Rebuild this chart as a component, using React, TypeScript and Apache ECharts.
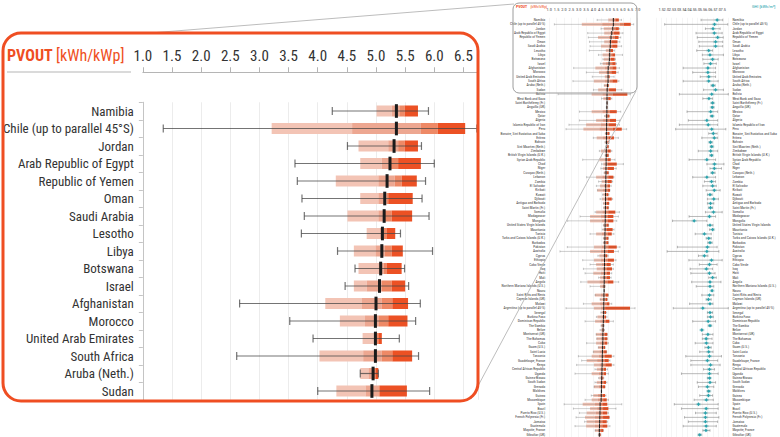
import React, { useEffect, useRef } from "react";
import * as echarts from "echarts";

const NARROW = "'Liberation Sans Narrow', 'Arial Narrow', 'Roboto Condensed', 'Liberation Sans', Arial, sans-serif";

const countries = [
  "Namibia", "Chile (up to parallel 45°S)", "Jordan", "Arab Republic of Egypt", "Republic of Yemen", "Oman", "Saudi Arabia", "Lesotho", "Libya", "Botswana", "Israel", "Afghanistan", "Morocco", "United Arab Emirates", "South Africa", "Aruba (Neth.)", "Sudan",
  "Bolivia", "West Bank and Gaza", "Saint Barthélemy (Fr.)", "Anguilla (UK)", "Mexico", "Qatar", "Algeria", "Islamic Republic of Iran", "Peru", "Bonaire, Sint Eustatius and Saba", "Eritrea", "Bahrain", "Sint Maarten (Neth.)", "Zimbabwe", "British Virgin Islands (U.K.)", "Syrian Arab Republic", "Chad", "Niger", "Curaçao (Neth.)", "Lebanon", "Zambia", "El Salvador", "Kiribati", "Kuwait", "Djibouti", "Antigua and Barbuda", "Saint Martin (Fr.)", "Somalia", "Madagascar",
  "Mongolia", "United States Virgin Islands", "Mauritania", "Tunisia", "Turks and Caicos Islands (U.K.)", "Barbados", "Pakistan", "Australia", "Cyprus", "Ethiopia", "Cabo Verde", "Iraq", "Haiti", "Mali", "Angola", "Northern Mariana Islands (U.S.)", "Nauru", "Saint Kitts and Nevis", "Cayman Islands (UK)", "Malawi", "Argentina (up to parallel 45°S)", "Senegal", "Burkina Faso",
  "Dominican Republic", "The Gambia", "Belize", "Montserrat (UK)", "The Bahamas", "Cuba", "Guam (U.S.)", "Saint Lucia", "Tanzania", "Guadeloupe, France", "Kenya", "Central African Republic", "Uganda", "Guinea-Bissau", "South Sudan", "Grenada", "Maldives", "Guinea", "Mozambique", "Spain", "Brazil", "Puerto Rico (U.S.)", "French Polynesia (Fr.)", "Jamaica", "Guatemala", "Mayotte, France", "Gibraltar (UK)"
];

// PVOUT per country: [min, band0, band1, band2, band3, band4, max, median]
const pvout = [
  [4.25, 5.01, 5.27, 5.40, 5.49, 5.72, 5.90, 5.35],
  [1.35, 3.21, 4.59, 5.77, 6.06, 6.53, 6.73, 5.35],
  [4.51, 4.70, 5.21, 5.38, 5.49, 5.72, 5.78, 5.31],
  [3.61, 4.73, 5.10, 5.24, 5.38, 5.77, 6.00, 5.24],
  [3.65, 4.31, 5.04, 5.32, 5.44, 5.70, 5.85, 5.19],
  [3.73, 4.73, 5.04, 5.18, 5.21, 5.63, 5.79, 5.15],
  [3.77, 4.51, 5.04, 5.15, 5.27, 5.62, 5.91, 5.14],
  [3.72, 4.84, 5.07, 5.13, 5.18, 5.33, 5.42, 5.11],
  [4.34, 4.62, 4.99, 5.15, 5.27, 5.46, 5.97, 5.10],
  [4.64, 4.70, 5.04, 5.13, 5.18, 5.44, 5.49, 5.08],
  [4.47, 4.62, 4.84, 5.10, 5.27, 5.50, 5.56, 5.06],
  [2.66, 4.13, 4.76, 5.10, 5.28, 5.55, 5.76, 5.00],
  [3.52, 4.38, 4.81, 5.05, 5.21, 5.54, 5.68, 4.99],
  [3.92, 4.77, 4.96, 5.01, 5.04, 5.10, 5.40, 4.99],
  [2.61, 4.03, 4.78, 5.10, 5.28, 5.62, 5.73, 4.99],
  [4.73, 4.73, 4.87, 4.96, 4.99, 5.04, 5.04, 4.95],
  [4.00, 4.32, 4.82, 5.04, 5.06, 5.53, 5.92, 4.93],
  [1.60, 3.88, 4.60, 5.00, 5.30, 6.30, 6.50, 4.92],
  [4.55, 4.67, 4.85, 4.95, 5.00, 5.17, 5.25, 4.92],
  [4.88, 4.88, 4.90, 4.92, 4.93, 4.95, 4.95, 4.92],
  [4.87, 4.87, 4.89, 4.91, 4.92, 4.94, 4.94, 4.91],
  [3.05, 3.88, 4.60, 4.90, 5.10, 5.58, 5.85, 4.91],
  [4.75, 4.79, 4.86, 4.92, 4.95, 5.08, 5.10, 4.90],
  [3.05, 4.18, 4.65, 4.92, 5.10, 5.53, 5.80, 4.90],
  [2.34, 3.50, 4.50, 4.90, 5.05, 5.53, 5.76, 4.89],
  [2.14, 3.32, 4.40, 4.90, 5.30, 5.92, 6.25, 4.89],
  [4.80, 4.80, 4.85, 4.90, 4.95, 5.08, 5.08, 4.89],
  [3.99, 4.22, 4.65, 4.92, 5.05, 5.39, 5.69, 4.88],
  [4.78, 4.80, 4.84, 4.90, 4.95, 5.06, 5.06, 4.88],
  [4.83, 4.85, 4.87, 4.89, 4.93, 5.03, 5.03, 4.88],
  [4.40, 4.51, 4.75, 4.90, 4.98, 5.17, 5.25, 4.87],
  [4.79, 4.79, 4.84, 4.88, 4.92, 5.03, 5.03, 4.87],
  [3.27, 4.40, 4.75, 4.90, 4.98, 5.17, 5.46, 4.86],
  [4.56, 4.67, 4.80, 4.88, 4.95, 5.58, 6.03, 4.86],
  [4.50, 4.63, 4.78, 4.88, 4.97, 5.39, 5.55, 4.85],
  [4.72, 4.72, 4.80, 4.86, 4.92, 5.03, 5.03, 4.85],
  [3.54, 4.18, 4.60, 4.88, 5.00, 5.35, 5.39, 4.84],
  [4.35, 4.56, 4.75, 4.88, 4.97, 5.24, 5.30, 4.84],
  [4.20, 4.45, 4.70, 4.87, 4.95, 5.12, 5.20, 4.83],
  [4.27, 4.27, 4.65, 4.85, 4.95, 5.12, 5.12, 4.83],
  [4.62, 4.67, 4.77, 4.85, 4.90, 5.01, 5.05, 4.82],
  [4.45, 4.58, 4.74, 4.86, 4.96, 5.24, 5.30, 4.82],
  [4.67, 4.67, 4.76, 4.84, 4.90, 5.06, 5.06, 4.82],
  [4.69, 4.69, 4.77, 4.84, 4.90, 5.03, 5.03, 4.81],
  [4.11, 4.18, 4.60, 4.85, 5.00, 5.48, 5.76, 4.81],
  [3.09, 3.77, 4.50, 4.84, 4.98, 5.35, 5.69, 4.80],
  [2.25, 3.77, 4.55, 4.84, 4.98, 5.35, 5.58, 4.80],
  [4.67, 4.67, 4.75, 4.82, 4.88, 5.03, 5.03, 4.79],
  [4.60, 4.67, 4.75, 4.83, 4.92, 5.30, 5.40, 4.79],
  [3.77, 4.18, 4.58, 4.82, 4.95, 5.24, 5.39, 4.78],
  [4.67, 4.67, 4.74, 4.81, 4.87, 5.01, 5.01, 4.78],
  [4.67, 4.67, 4.74, 4.81, 4.87, 5.01, 5.01, 4.77],
  [2.23, 4.04, 4.55, 4.82, 5.00, 5.58, 5.80, 4.77],
  [1.73, 3.77, 4.50, 4.80, 4.98, 5.39, 5.69, 4.76],
  [4.30, 4.40, 4.62, 4.78, 4.85, 4.94, 5.00, 4.76],
  [3.27, 4.04, 4.50, 4.80, 4.98, 5.39, 5.53, 4.75],
  [3.77, 4.18, 4.55, 4.78, 4.92, 5.17, 5.35, 4.75],
  [3.32, 4.22, 4.60, 4.78, 4.92, 5.26, 5.35, 4.74],
  [3.43, 3.99, 4.50, 4.77, 4.90, 5.12, 5.24, 4.74],
  [4.35, 4.45, 4.62, 4.78, 4.90, 5.12, 5.20, 4.73],
  [3.14, 3.59, 4.40, 4.78, 4.95, 5.35, 5.71, 4.73],
  [3.77, 4.45, 4.60, 4.70, 4.75, 4.79, 4.79, 4.72],
  [4.72, 4.72, 4.72, 4.72, 4.72, 4.74, 4.74, 4.72],
  [4.11, 4.11, 4.50, 4.75, 4.85, 5.01, 5.01, 4.71],
  [4.45, 4.45, 4.62, 4.74, 4.82, 4.94, 4.94, 4.71],
  [3.32, 3.88, 4.45, 4.74, 4.88, 5.08, 5.24, 4.70],
  [2.14, 4.04, 4.50, 4.72, 4.79, 6.48, 6.82, 4.70],
  [4.50, 4.56, 4.64, 4.70, 4.75, 4.85, 4.90, 4.69],
  [4.20, 4.27, 4.55, 4.68, 4.75, 4.85, 4.92, 4.68],
  [3.43, 4.11, 4.45, 4.70, 4.82, 5.08, 5.35, 4.67],
  [4.51, 4.51, 4.60, 4.66, 4.69, 4.72, 4.72, 4.66],
  [4.45, 4.51, 4.58, 4.64, 4.68, 4.72, 4.75, 4.65],
  [4.18, 4.18, 4.45, 4.66, 4.75, 4.94, 4.94, 4.64],
  [4.22, 4.22, 4.48, 4.65, 4.75, 4.94, 4.94, 4.64],
  [3.54, 4.18, 4.45, 4.65, 4.75, 4.94, 5.01, 4.63],
  [4.33, 4.33, 4.52, 4.64, 4.70, 4.79, 4.79, 4.62],
  [3.99, 3.99, 4.40, 4.62, 4.72, 4.90, 4.90, 4.61],
  [2.98, 3.88, 4.35, 4.62, 4.78, 5.24, 5.39, 4.60],
  [3.20, 3.54, 4.25, 4.60, 4.75, 5.03, 5.12, 4.60],
  [2.86, 4.04, 4.40, 4.62, 4.80, 5.24, 5.39, 4.59],
  [4.10, 4.22, 4.45, 4.60, 4.70, 4.85, 4.95, 4.58],
  [2.75, 3.88, 4.35, 4.58, 4.70, 4.85, 5.01, 4.57],
  [4.35, 4.40, 4.50, 4.56, 4.60, 4.67, 4.70, 4.56],
  [4.10, 4.22, 4.42, 4.57, 4.68, 4.85, 4.92, 4.55],
  [4.04, 4.04, 4.35, 4.55, 4.65, 4.79, 4.79, 4.54],
  [4.52, 4.52, 4.53, 4.54, 4.55, 4.56, 4.56, 4.54],
  [3.85, 3.99, 4.30, 4.53, 4.65, 4.79, 4.85, 4.53],
  [3.43, 3.88, 4.30, 4.53, 4.66, 4.90, 5.01, 4.52],
  [2.01, 3.27, 4.10, 4.45, 4.60, 4.94, 5.92, 4.45],
  [2.64, 3.77, 4.25, 4.48, 4.65, 5.01, 5.53, 4.45],
  [3.05, 3.54, 4.15, 4.45, 4.62, 4.94, 5.01, 4.44],
  [2.82, 3.43, 4.10, 4.45, 4.65, 5.08, 5.08, 4.43],
  [3.40, 3.54, 4.10, 4.42, 4.60, 4.90, 4.95, 4.42],
  [2.75, 3.50, 4.10, 4.42, 4.60, 4.94, 5.12, 4.41],
  [4.11, 4.11, 4.30, 4.42, 4.52, 4.67, 4.67, 4.40],
  [4.33, 4.33, 4.37, 4.40, 4.44, 4.49, 4.49, 4.40]
];

// GHI per country: [min, median, max]
const ghi = [
  [5.36, 6.91, 7.45], [1.84, 6.66, 7.94], [5.78, 6.51, 7.20], [4.87, 6.64, 7.40], [4.99, 6.96, 7.50],
  [5.14, 6.76, 7.45], [5.19, 6.76, 7.45], [4.94, 6.10, 6.47], [5.48, 6.22, 7.52], [5.53, 6.47, 7.01],
  [5.63, 6.27, 6.83], [3.63, 6.02, 6.76], [4.55, 6.02, 6.76], [5.28, 6.10, 6.76], [3.63, 6.10, 7.01],
  [6.34, 6.51, 6.71], [5.60, 6.76, 7.52], [3.26, 6.39, 7.99], [5.53, 6.12, 6.47], [6.34, 6.47, 6.59],
  [6.34, 6.44, 6.59], [4.00, 6.29, 6.96], [6.27, 6.42, 6.51], [4.13, 5.92, 6.96], [3.26, 6.05, 6.96],
  [2.90, 6.39, 7.75], [6.10, 6.54, 6.91], [5.43, 6.64, 6.96], [6.15, 6.27, 6.42], [6.27, 6.39, 6.51],
  [5.09, 6.29, 6.96], [6.22, 6.37, 6.47], [4.20, 5.92, 6.76], [5.92, 6.66, 7.57], [6.22, 6.64, 7.33],
  [6.34, 6.47, 6.71], [4.55, 5.92, 6.76], [5.68, 6.37, 6.76], [5.53, 6.47, 6.83], [5.85, 6.64, 7.20],
  [5.97, 6.22, 6.42], [5.97, 6.59, 7.03], [5.97, 6.27, 6.59], [6.10, 6.27, 6.47], [5.78, 6.56, 7.40],
  [4.20, 6.17, 6.76], [2.60, 4.69, 5.92], [5.97, 6.22, 6.51], [6.17, 6.47, 6.59], [4.79, 5.68, 6.34],
  [5.85, 6.10, 6.34], [6.02, 6.22, 6.42], [3.07, 5.97, 6.91], [2.08, 5.92, 7.08], [5.11, 5.68, 6.02],
  [4.18, 6.37, 7.40], [5.19, 6.17, 6.91], [4.30, 5.87, 6.47], [4.37, 6.17, 6.71], [6.10, 6.47, 6.83],
  [4.45, 6.22, 7.28], [4.89, 6.22, 6.59], [6.34, 6.42, 6.47], [5.43, 6.17, 6.59], [5.85, 6.07, 6.34],
  [4.25, 6.22, 6.51], [2.67, 5.53, 7.99], [5.97, 6.22, 6.47], [5.97, 6.27, 6.54], [4.55, 6.05, 6.76],
  [6.10, 6.22, 6.34], [5.36, 5.43, 5.53], [5.48, 6.02, 6.51], [5.48, 5.85, 6.42], [4.79, 5.87, 6.51],
  [5.73, 6.07, 6.34], [5.23, 6.10, 6.51], [3.88, 6.17, 7.33], [4.37, 5.97, 6.96], [4.37, 6.27, 7.20],
  [5.60, 6.17, 6.66], [3.46, 6.17, 7.01], [5.97, 6.17, 6.27], [4.99, 6.22, 6.76], [5.11, 5.97, 6.59],
  [5.97, 6.10, 6.22], [5.23, 6.07, 6.47], [4.69, 5.87, 6.54], [2.77, 5.11, 7.01], [3.46, 5.85, 7.01],
  [4.82, 5.78, 6.83], [3.76, 5.78, 7.08], [4.13, 5.78, 6.96], [3.63, 5.85, 6.83], [5.53, 5.83, 6.22],
  [5.11, 5.23, 5.36]
];

const INSET_COUNT = 17;
const BAND_COLORS = ["#f3c4b5", "#eda791", "#ee8966", "#ec5124"];
const ORANGE = "#ef4e22";
const TEAL = "#2ba3ad";

function makePvRender(cfg: any) {
  return (params: any, api: any) => {
    const i = api.value(0);
    const band = api.size([0, 1])[1];
    const yc = api.coord([1, i])[1];
    const X = (k: number) => api.coord([api.value(k), i])[0];
    const xs = [1, 2, 3, 4, 5, 6, 7, 8].map(X);
    const [xMin, b0, b1, b2, b3, b4, xMax, med] = xs;
    const h = band * cfg.box;
    const top = yc - h / 2;
    const cap = (band * cfg.cap) / 2;
    const mh = (band * cfg.med) / 2;
    const segs = [[b0, b1], [b1, b2], [b2, b3], [b3, b4]];
    const rects = segs
      .map((s, k) => ({ s, k }))
      .filter(({ s }) => s[1] - s[0] > 0.05)
      .map(({ s, k }) => ({
        type: "rect",
        shape: { x: s[0], y: top, width: s[1] - s[0], height: h },
        style: { fill: BAND_COLORS[k] },
      }));
    const ws = { stroke: cfg.wc, lineWidth: cfg.ww };
    return {
      type: "group",
      children: [
        ...rects,
        { type: "line", shape: { x1: xMin, y1: yc, x2: xMax, y2: yc }, style: ws },
        { type: "line", shape: { x1: xMin, y1: yc - cap, x2: xMin, y2: yc + cap }, style: ws },
        { type: "line", shape: { x1: xMax, y1: yc - cap, x2: xMax, y2: yc + cap }, style: ws },
        { type: "line", shape: { x1: med, y1: yc - mh, x2: med, y2: yc + mh }, style: { stroke: "#1b1b1b", lineWidth: cfg.mw } },
      ],
    };
  };
}

function ghiRender(params: any, api: any) {
  const i = api.value(0);
  const band = api.size([0, 1])[1];
  const yc = api.coord([1, i])[1];
  const xMin = api.coord([api.value(1), i])[0];
  const xMed = api.coord([api.value(2), i])[0];
  const xMax = api.coord([api.value(3), i])[0];
  const cap = band * 0.28;
  const d = 1.9;
  const ws = { stroke: "#8a8a8a", lineWidth: 0.6 };
  return {
    type: "group",
    children: [
      { type: "line", shape: { x1: xMin, y1: yc, x2: xMax, y2: yc }, style: ws },
      { type: "line", shape: { x1: xMin, y1: yc - cap, x2: xMin, y2: yc + cap }, style: ws },
      { type: "line", shape: { x1: xMax, y1: yc - cap, x2: xMax, y2: yc + cap }, style: ws },
      { type: "rect", shape: { x: xMed - 2.6, y: yc - 1.1, width: 5.2, height: 2.2 }, style: { fill: "rgba(43,163,173,0.25)" } },
      {
        type: "polygon",
        shape: { points: [[xMed, yc - d], [xMed + d * 0.8, yc], [xMed, yc + d], [xMed - d * 0.8, yc]] },
        style: { fill: TEAL },
      },
    ],
  };
}

export default function App() {
  const ref = useRef<HTMLDivElement>(null);
  useEffect(() => {
    const chart = echarts.init(ref.current as HTMLDivElement, null, { renderer: "svg" });
    const insetNames = countries.slice(0, INSET_COUNT);
    const pvData = pvout.map((r, i) => [i, ...r]);
    const ghiData = ghi.map((r, i) => [i, ...r]);

    const smallTop = 17.8;
    const smallH = 419.5;

    const option: any = {
      animation: false,
      backgroundColor: "#fff",
      grid: [
        { left: 137, top: 102.25, width: 341, height: 297.5 },
        { left: 549.2, top: smallTop, width: 88.5, height: smallH },
        { left: 656, top: smallTop, width: 94.8, height: smallH },
      ],
      xAxis: [
        {
          gridIndex: 0, type: "value", min: 1, max: 6.75, interval: 0.5, position: "top", offset: 30,
          axisLine: { show: true, lineStyle: { color: "#b5b5b5", width: 1 } },
          axisTick: { show: true, length: 5, lineStyle: { color: "#b5b5b5" } },
          axisLabel: { fontFamily: NARROW, fontSize: 15, color: "#333", margin: 9, showMaxLabel: false, formatter: (v: number) => v.toFixed(1) },
          splitLine: { show: true, lineStyle: { color: "#ececec", width: 1 } },
        },
        {
          gridIndex: 1, type: "value", min: 1, max: 7, interval: 0.5, position: "top", offset: 5,
          axisLine: { show: false }, axisTick: { show: false },
          axisLabel: { fontFamily: NARROW, fontSize: 4.4, color: "#444", margin: 1, formatter: (v: number) => v.toFixed(1) },
          splitLine: { show: true, lineStyle: { color: "#efefef", width: 0.6 } },
        },
        {
          gridIndex: 2, type: "value", min: 1, max: 8, interval: 0.5, position: "top", offset: 5,
          axisLine: { show: false }, axisTick: { show: false },
          axisLabel: { fontFamily: NARROW, fontSize: 4.4, color: "#444", margin: 1, showMaxLabel: false, formatter: (v: number) => v.toFixed(1) },
          splitLine: { show: true, lineStyle: { color: "#efefef", width: 0.6 } },
        },
      ],
      yAxis: [
        {
          gridIndex: 0, type: "category", data: insetNames, inverse: true,
          axisLine: { show: true, lineStyle: { color: "#c4c4c4" } },
          axisTick: { show: true, length: 4, lineStyle: { color: "#c4c4c4" } },
          axisLabel: { fontFamily: NARROW, fontSize: 13, color: "#333", margin: 9, interval: 0 },
        },
        {
          gridIndex: 1, type: "category", data: countries, inverse: true,
          axisLine: { show: false }, axisTick: { show: false },
          axisLabel: { fontFamily: NARROW, fontSize: 3.5, color: "#333", margin: 4, interval: 0 },
        },
        {
          gridIndex: 2, type: "category", data: countries, inverse: true, position: "right",
          axisLine: { show: false }, axisTick: { show: false },
          axisLabel: { fontFamily: NARROW, fontSize: 3.5, color: "#333", margin: 4, interval: 0 },
        },
      ],
      series: [
        {
          type: "custom", xAxisIndex: 0, yAxisIndex: 0, clip: false,
          data: pvData.slice(0, INSET_COUNT),
          encode: { x: [1, 2, 3, 4, 5, 6, 7, 8], y: 0 },
          renderItem: makePvRender({ box: 0.63, cap: 0.45, med: 0.78, ww: 1.2, mw: 3, wc: "rgba(70,70,70,0.75)" }),
        },
        {
          type: "custom", xAxisIndex: 1, yAxisIndex: 1, clip: false,
          data: pvData,
          encode: { x: [1, 2, 3, 4, 5, 6, 7, 8], y: 0 },
          renderItem: makePvRender({ box: 0.7, cap: 0.5, med: 0.9, ww: 0.5, mw: 1, wc: "rgba(90,90,90,0.6)" }),
        },
        {
          type: "custom", xAxisIndex: 2, yAxisIndex: 2, clip: false,
          data: ghiData,
          encode: { x: [1, 2, 3], y: 0 },
          renderItem: ghiRender,
        },
      ],
      graphic: [
        { type: "line", z: 50, shape: { x1: 150, y1: 33, x2: 514, y2: 4 }, style: { stroke: "#bdbdbd", lineWidth: 1 } },
        { type: "line", z: 50, shape: { x1: 636, y1: 91, x2: 471, y2: 399 }, style: { stroke: "#bdbdbd", lineWidth: 1 } },
        { type: "rect", z: 60, shape: { x: 3, y: 33, width: 475, height: 368, r: 18 }, style: { fill: "none", stroke: ORANGE, lineWidth: 3 } },
        { type: "rect", z: 60, shape: { x: 513, y: 3, width: 124, height: 90, r: 6 }, style: { fill: "none", stroke: "#9c9c9c", lineWidth: 1 } },
        { type: "line", z: 60, shape: { x1: 7, y1: 72, x2: 131, y2: 72 }, style: { stroke: "#b5b5b5", lineWidth: 1 } },
        {
          type: "text", z: 60, x: 7, y: 55,
          style: {
            text: "{b|PVOUT} {n|[kWh/kWp]}", verticalAlign: "middle",
            rich: {
              b: { fontFamily: NARROW, fontSize: 16, fontWeight: "bold", fill: ORANGE },
              n: { fontFamily: NARROW, fontSize: 16, fill: ORANGE },
            },
          },
        },
        {
          type: "text", z: 60, x: 516, y: 6.5,
          style: {
            text: "{b|PVOUT} {n|[kWh/kWp]}", verticalAlign: "middle",
            rich: {
              b: { fontFamily: NARROW, fontSize: 3.9, fontWeight: "bold", fill: ORANGE },
              n: { fontFamily: NARROW, fontSize: 3.9, fill: ORANGE },
            },
          },
        },
        {
          type: "text", z: 60, x: 752, y: 6.5,
          style: { text: "GHI [kWh/m²]", verticalAlign: "middle", fontFamily: NARROW, fontSize: 4.4, fill: TEAL },
        },
      ],
    };
    chart.setOption(option);
    return () => chart.dispose();
  }, []);
  return <div ref={ref} style={{ position: "fixed", left: 0, top: 0, width: 780, height: 437, background: "#fff" }} />;
}
